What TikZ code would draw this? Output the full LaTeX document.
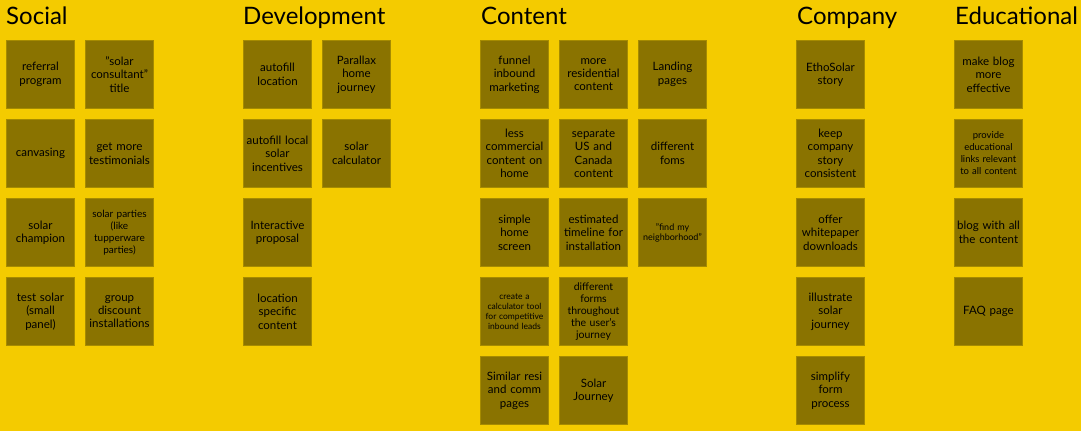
\documentclass[tikz,border=0pt]{standalone}
\usepackage{fontspec}
\setmainfont{Lato}
\definecolor{bgyellow}{HTML}{F4CB00}
\definecolor{noteolive}{HTML}{8A7300}
\definecolor{noteedge}{HTML}{A68B00}
\tikzset{
  note/.style={rectangle, fill=noteolive, draw=noteedge, line width=0.8pt,
    minimum width=68pt, minimum height=68pt, inner sep=0pt, align=center,
    text width=67pt, font=\fontsize{11.5}{13.4}\selectfont, text=black},
  smallnote/.style={note, font=\fontsize{10}{12}\selectfont},
  tinynote/.style={note, font=\fontsize{8.5}{10}\selectfont},
  header/.style={anchor=base west, inner sep=0pt, font=\fontsize{24}{28}\selectfont, text=black}
}
\begin{document}
\begin{tikzpicture}[x=1pt,y=-1pt]
\fill[bgyellow] (0,0) rectangle (1081,431);
\useasboundingbox (0,0) rectangle (1081,431);
% headers
\node[header] (hsocial) at (6,24) {Social};
\node[header] (hdev) at (243,24) {Development};
\node[header] (hcontent) at (481,24) {Content};
\node[header] (hcompany) at (797,24) {Company};
\node[header] (hedu) at (955,24) {Educational};
% Social
\node[note] (s11) at (40.5,74.5) {referral\\program};
\node[note] (s12) at (119.5,74.5) {"solar\\consultant"\\title};
\node[note] (s21) at (40.5,153.5) {canvasing};
\node[note] (s22) at (119.5,153.5) {get more\\testimonials};
\node[note] (s31) at (40.5,232.5) {solar\\champion};
\node[smallnote] (s32) at (119.5,232.5) {solar parties\\(like\\tupperware\\parties)};
\node[note] (s41) at (40.5,311.5) {test solar\\(small\\panel)};
\node[note] (s42) at (119.5,311.5) {group\\discount\\installations};
% Development
\node[note] (d11) at (277.5,74.5) {autofill\\location};
\node[note] (d12) at (356.5,74.5) {Parallax\\home\\journey};
\node[note] (d21) at (277.5,153.5) {autofill local\\solar\\incentives};
\node[note] (d22) at (356.5,153.5) {solar\\calculator};
\node[note] (d31) at (277.5,232.5) {Interactive\\proposal};
\node[note] (d41) at (277.5,311.5) {location\\specific\\content};
% Content
\node[note] (c11) at (514.5,74.5) {funnel\\inbound\\marketing};
\node[note] (c12) at (593.5,74.5) {more\\residential\\content};
\node[note] (c13) at (672.5,74.5) {Landing\\pages};
\node[note] (c21) at (514.5,153.5) {less\\commercial\\content on\\home};
\node[note] (c22) at (593.5,153.5) {separate\\US and\\Canada\\content};
\node[note] (c23) at (672.5,153.5) {different\\foms};
\node[note] (c31) at (514.5,232.5) {simple\\home\\screen};
\node[note] (c32) at (593.5,232.5) {estimated\\timeline for\\installation};
\node[tinynote, font=\fontsize{9}{10}\selectfont] (c33) at (672.5,232.5) {"find my\\neighborhood"};
\node[tinynote] (c41) at (514.5,311.5) {create a\\calculator tool\\for competitive\\inbound leads};
\node[note, font=\fontsize{10.5}{12}\selectfont] (c42) at (593.5,311.5) {different\\forms\\throughout\\the user's\\journey};
\node[note] (c51) at (514.5,390.5) {Similar resi\\and comm\\pages};
\node[note] (c52) at (593.5,390.5) {Solar\\Journey};
% Company
\node[note] (k1) at (830.5,74.5) {EthoSolar\\story};
\node[note] (k2) at (830.5,153.5) {keep\\company\\story\\consistent};
\node[note] (k3) at (830.5,232.5) {offer\\whitepaper\\downloads};
\node[note] (k4) at (830.5,311.5) {illustrate\\solar\\journey};
\node[note] (k5) at (830.5,390.5) {simplify\\form\\process};
% Educational
\node[note] (e1) at (988.5,74.5) {make blog\\more\\effective};
\node[note, font=\fontsize{9.5}{12}\selectfont] (e2) at (988.5,153.5) {provide\\educational\\links relevant\\to all content};
\node[note] (e3) at (988.5,232.5) {blog with all\\the content};
\node[note] (e4) at (988.5,311.5) {FAQ page};
\end{tikzpicture}
\end{document}
